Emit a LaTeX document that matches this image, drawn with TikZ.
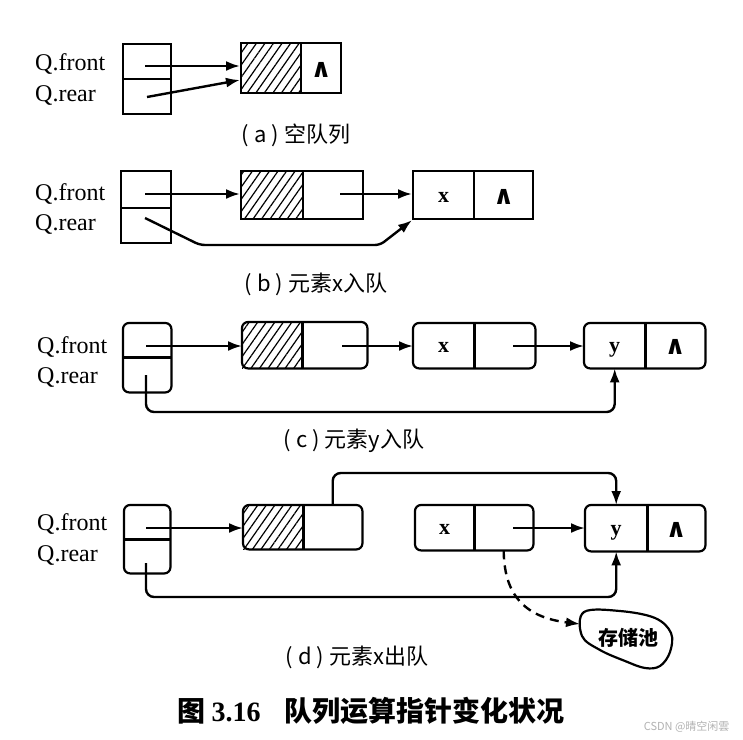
\documentclass[tikz,border=0pt]{standalone}
\usepackage{fontspec}
\setmainfont{Liberation Serif}
\newfontfamily\cjk{Noto Sans CJK SC}
\newfontfamily\dv{DejaVu Sans}
\usetikzlibrary{arrows.meta,patterns.meta}
\begin{document}
\begin{tikzpicture}[x=1pt,y=-1pt,
  cell/.style={draw, line width=2.2pt, inner sep=0pt, anchor=north west},
  rcell/.style={inner sep=0pt, anchor=north west},
  hatch/.style={pattern={Lines[angle=55,distance=7pt,line width=1.2pt]}},
  ptr/.style={line width=2.4pt, -{Latex[length=14pt,width=10pt]}},
  lab/.style={font=\fontsize{24}{24}\selectfont, anchor=west, inner sep=0pt},
  val/.style={font=\fontsize{22}{22}\selectfont\bfseries, anchor=base, yshift=-7pt},
  nil/.style={font=\dv\bfseries\fontsize{26}{26}\selectfont, anchor=base, yshift=-9pt},
  captext/.style={font=\cjk\fontsize{22}{22}\selectfont},
  outline/.style={line width=2.2pt, rounded corners=6pt},
  divl/.style={line width=2.2pt},
  roundbend/.style={rounded corners=8pt}]
\fill[white] (0,0) rectangle (743,739);
\useasboundingbox (0,0) rectangle (743,739);

% ---------------- (a)
\node[lab] (fa) at (35,64) {Q.front};
\node[lab] (ra) at (35,95) {Q.rear};
\node[cell, minimum width=48, minimum height=35] (qa1) at (122,43) {};
\node[cell, minimum width=48, minimum height=35] (qa2) at (122,78) {};
\node[cell, hatch, minimum width=60, minimum height=50] (ha1) at (240,42) {};
\node[cell, minimum width=40, minimum height=50] (ha2) at (300,42) {};
\node[nil] (ha2v) at (ha2.center) {∧};
\coordinate (qa1s) at (145,66);
\draw[ptr] (qa1s) -- (qa1s -| ha1.west);
\coordinate (qa2s) at (147,97);
\draw[ptr] (qa2s) -- (ha1.west |- 0,80);
\node[captext] (ca) at (296,135) {( a ) 空队列};

% ---------------- (b)
\node[lab] (fb) at (35,194) {Q.front};
\node[lab] (rb) at (35,224) {Q.rear};
\node[cell, minimum width=50, minimum height=37] (qb1) at (120,170) {};
\node[cell, minimum width=50, minimum height=35] (qb2) at (120,207) {};
\node[cell, hatch, minimum width=62, minimum height=48] (hb1) at (240,170) {};
\node[cell, minimum width=60, minimum height=48] (hb2) at (302,170) {};
\node[cell, minimum width=61, minimum height=48] (xb1) at (412,170) {};
\node[cell, minimum width=59, minimum height=48] (xb2) at (473,170) {};
\node[val] (xb1v) at (xb1.center) {x};
\node[nil] (xb2v) at (xb2.center) {∧};
\coordinate (qb1s) at (145,194);
\draw[ptr] (qb1s) -- (qb1s -| hb1.west);
\coordinate (hb2s) at (340,194);
\draw[ptr] (hb2s) -- (hb2s -| xb1.west);
\coordinate (qb2s) at (145,218);
\draw[ptr, rounded corners=5pt] (qb2s) -- (200,245) -- (380,245) -- (xb1.south west);
\node[captext] (cb) at (316,284) {( b ) 元素x入队};

% ---------------- (c)
\node[lab] (fc) at (37,347) {Q.front};
\node[lab] (rc) at (37,377) {Q.rear};
\node[rcell, minimum width=48, minimum height=34] (qc1) at (123,323) {};
\node[rcell, minimum width=48, minimum height=35] (qc2) at (123,357) {};
\node[rcell, hatch, minimum width=60, minimum height=46] (hc1) at (242,322) {};
\node[rcell, minimum width=65, minimum height=46] (hc2) at (302,322) {};
\node[rcell, minimum width=61, minimum height=45] (xc1) at (413,323) {};
\node[rcell, minimum width=61, minimum height=45] (xc2) at (474,323) {};
\node[rcell, minimum width=61, minimum height=45] (yc1) at (584,323) {};
\node[rcell, minimum width=60, minimum height=45] (yc2) at (645,323) {};
\draw[outline] (qc1.north west) rectangle (qc2.south east);
\draw[divl] (qc1.south west) -- (qc1.south east);
\draw[outline] (hc1.north west) rectangle (hc2.south east);
\draw[divl] (hc1.north east) -- (hc1.south east);
\draw[outline] (xc1.north west) rectangle (xc2.south east);
\draw[divl] (xc1.north east) -- (xc1.south east);
\draw[outline] (yc1.north west) rectangle (yc2.south east);
\draw[divl] (yc1.north east) -- (yc1.south east);
\node[val] (xc1v) at (xc1.center) {x};
\node[val] (yc1v) at (yc1.center) {y};
\node[nil] (yc2v) at (yc2.center) {∧};
\coordinate (qc1s) at (146,346);
\draw[ptr] (qc1s) -- (qc1s -| hc1.west);
\coordinate (hc2s) at (342,346);
\draw[ptr] (hc2s) -- (hc2s -| xc1.west);
\coordinate (xc2s) at (513,346);
\draw[ptr] (xc2s) -- (xc2s -| yc1.west);
\coordinate (qc2s) at (146,375);
\draw[ptr, roundbend] (qc2s) -- (146,412) -| (yc1.south);
\node[captext] (cc) at (354,441) {( c ) 元素y入队};

% ---------------- (d)
\node[lab] (fd) at (37,524) {Q.front};
\node[lab] (rd) at (37,555) {Q.rear};
\node[rcell, minimum width=46, minimum height=34] (qd1) at (124,505) {};
\node[rcell, minimum width=46, minimum height=34] (qd2) at (124,539) {};
\node[rcell, hatch, minimum width=60, minimum height=44] (hd1) at (243,505) {};
\node[rcell, minimum width=59, minimum height=44] (hd2) at (303,505) {};
\node[rcell, minimum width=59, minimum height=45] (xd1) at (415,505) {};
\node[rcell, minimum width=59, minimum height=45] (xd2) at (474,505) {};
\node[rcell, minimum width=62, minimum height=46] (yd1) at (585,505) {};
\node[rcell, minimum width=58, minimum height=46] (yd2) at (647,505) {};
\draw[outline] (qd1.north west) rectangle (qd2.south east);
\draw[divl] (qd1.south west) -- (qd1.south east);
\draw[outline] (hd1.north west) rectangle (hd2.south east);
\draw[divl] (hd1.north east) -- (hd1.south east);
\draw[outline] (xd1.north west) rectangle (xd2.south east);
\draw[divl] (xd1.north east) -- (xd1.south east);
\draw[outline] (yd1.north west) rectangle (yd2.south east);
\draw[divl] (yd1.north east) -- (yd1.south east);
\node[val] (xd1v) at (xd1.center) {x};
\node[val] (yd1v) at (yd1.center) {y};
\node[nil] (yd2v) at (yd2.center) {∧};
\coordinate (qd1s) at (146,528);
\draw[ptr] (qd1s) -- (qd1s -| hd1.west);
\draw[ptr, roundbend] (hd2.north) -- (hd2.north |- 0,473) -| (yd1.north);
\coordinate (xd2s) at (513,528);
\draw[ptr] (xd2s) -- (xd2s -| yd1.west);
\coordinate (qd2s) at (146,563);
\draw[ptr, roundbend] (qd2s) -- (146,597) -| (yd1.south);
% storage pool
\draw[line width=2.2pt] plot[smooth cycle, tension=0.6] coordinates
  {(584,612) (620,611) (655,618) (671,633) (670,652) (660,666) (645,668) (625,661) (600,650) (582,636)};
\node[font=\cjk\bfseries\fontsize{20}{20}\selectfont] (pool) at (628,638) {存储池};
\coordinate (poolin) at (580,624);
\draw[ptr, dashed, dash pattern=on 9pt off 6pt] (xd2.south) .. controls (504,592) and (522,617) .. (poolin);
\node[captext] (cd) at (357,657) {( d ) 元素x出队};

% ---------------- caption
\node[font=\cjk\bfseries\fontsize{28}{28}\selectfont] (fig) at (371,711)
  {图 {\rmfamily\bfseries 3.16}\hspace{24pt}队列运算指针变化状况};
\node[font=\cjk\fontsize{11}{11}\selectfont, text=gray!60, anchor=east] (wm) at (733,727) {CSDN @晴空闲雲};
\end{tikzpicture}
\end{document}
